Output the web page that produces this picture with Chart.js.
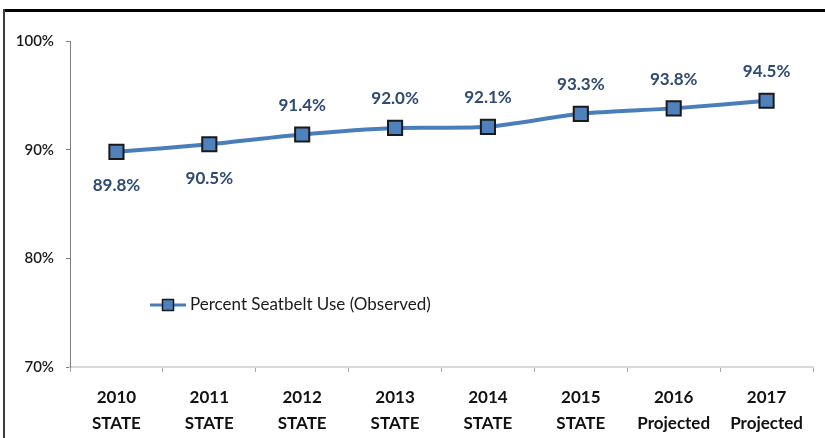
<!DOCTYPE html>
<html>
<head>
<meta charset="utf-8">
<script src="https://cdn.jsdelivr.net/npm/chart.js@4.4.1/dist/chart.umd.min.js"></script>
<style>
  html, body { margin: 0; padding: 0; background: #fff; }
  #wrap { position: relative; width: 825px; height: 438px; overflow: hidden; }
  #c { position: absolute; left: 0; top: 0; }
  #bt { position: absolute; left: 3px; top: 9px; width: 830px; height: 3px; background: #000; }
  #bl { position: absolute; left: 3px; top: 9px; width: 2px; height: 429px; background: #3a3a3a; }
</style>
</head>
<body>
<div id="wrap">
  <canvas id="c" width="825" height="438"></canvas>
  <div id="bt"></div>
  <div id="bl"></div>
</div>
<script>
const years = ['2010', '2011', '2012', '2013', '2014', '2015', '2016', '2017'];
const subLabels = ['STATE', 'STATE', 'STATE', 'STATE', 'STATE', 'STATE', 'Projected', 'Projected'];
const seatbeltUse = [89.8, 90.5, 91.4, 92.0, 92.1, 93.3, 93.8, 94.5];
const yTicks = [70, 80, 90, 100];
const labelBelow = [true, true, false, false, false, false, false, false];
const seriesName = 'Percent Seatbelt Use (Observed)';

const FONT = 'Lato, "Open Sans", sans-serif';
const LINE = '#4a7ebb';
const FILL = '#4f81bd';

const categories = years.map((y, i) => [y, subLabels[i]]);

const dataLabelPlugin = {
  id: 'dataLabels',
  afterDatasetsDraw(chart) {
    const ctx = chart.ctx;
    const meta = chart.getDatasetMeta(0);
    ctx.save();
    ctx.font = 'bold 17px ' + FONT;
    ctx.fillStyle = '#2f4a73';
    ctx.textAlign = 'center';
    ctx.textBaseline = 'middle';
    meta.data.forEach((pt, i) => {
      const v = seatbeltUse[i].toFixed(1) + '%';
      const dy = labelBelow[i] ? 34 : -29;
      ctx.fillText(v, pt.x, pt.y + dy);
    });
    ctx.restore();
  }
};

const legendPlugin = {
  id: 'insideLegend',
  afterDraw(chart) {
    const ctx = chart.ctx;
    const ds = chart.data.datasets[0];
    const x0 = 150, x1 = 186, y = 305;
    ctx.save();
    ctx.strokeStyle = ds.borderColor;
    ctx.lineWidth = 3;
    ctx.beginPath();
    ctx.moveTo(x0, y);
    ctx.lineTo(x1, y);
    ctx.stroke();
    const s = 11, cx = (x0 + x1) / 2;
    ctx.fillStyle = ds.pointBackgroundColor;
    ctx.fillRect(cx - s / 2, y - s / 2, s, s);
    ctx.strokeStyle = '#1a1a1a';
    ctx.lineWidth = 1.5;
    ctx.strokeRect(cx - s / 2, y - s / 2, s, s);
    ctx.font = '17px ' + FONT;
    ctx.fillStyle = '#1a1a1a';
    ctx.textAlign = 'left';
    ctx.textBaseline = 'middle';
    ctx.fillText(ds.label, 190, y);
    ctx.restore();
  }
};

new Chart(document.getElementById('c'), {
  type: 'line',
  data: {
    labels: categories,
    datasets: [{
      label: seriesName,
      data: seatbeltUse,
      borderColor: LINE,
      borderWidth: 4,
      tension: 0.25,
      pointStyle: 'rect',
      pointRadius: 10,
      pointHoverRadius: 10,
      pointBackgroundColor: FILL,
      pointBorderColor: '#1a1a1a',
      pointBorderWidth: 2
    }]
  },
  options: {
    responsive: false,
    animation: false,
    devicePixelRatio: 1,
    layout: { padding: { top: 41, right: 10, left: 0, bottom: 0 } },
    plugins: { legend: { display: false }, tooltip: { enabled: false } },
    scales: {
      x: {
        offset: true,
        afterFit(s) { s.height = 71; },
        grid: { offset: true, drawOnChartArea: false, tickLength: 5, color: '#a6a6a6', lineWidth: 1 },
        border: { color: '#d9d9d9', width: 2 },
        ticks: {
          color: '#111',
          font: { family: FONT, size: 17, weight: 'bold', lineHeight: 1.5 },
          padding: 13,
          maxRotation: 0,
          autoSkip: false
        }
      },
      y: {
        min: 70,
        max: 100,
        afterFit(s) { s.width = 70; },
        afterBuildTicks(s) { s.ticks = yTicks.map(v => ({ value: v })); },
        grid: { drawOnChartArea: false, tickLength: 4, color: '#808080' },
        border: { color: '#808080', width: 1 },
        ticks: {
          color: '#1a1a1a',
          font: { family: FONT, size: 15, weight: '600' },
          padding: 12,
          callback: v => v + '%'
        }
      }
    }
  },
  plugins: [dataLabelPlugin, legendPlugin]
});
</script>
</body>
</html>
